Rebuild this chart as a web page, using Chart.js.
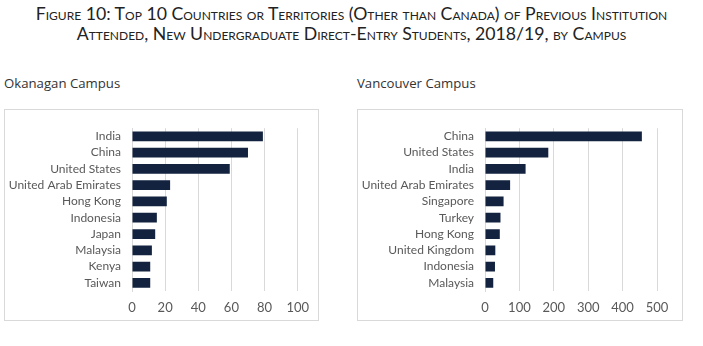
<!DOCTYPE html>
<html>
<head>
    <title>Figure 10</title>
    <script src="https://cdn.jsdelivr.net/npm/chart.js@4/dist/chart.umd.min.js"></script>
    <style>
        body {
            margin: 0;
            width: 703px;
            height: 346px;
            background: #fff;
            position: relative;
            font-family: Lato, "Open Sans", sans-serif;
        }

        .title {
            position: absolute;
            left: 0;
            top: 4px;
            width: 703px;
            text-align: center;
            font-variant: small-caps;
            font-size: 17.7px;
            line-height: 20px;
            color: #222;
        }

        .campus {
            position: absolute;
            top: 74px;
            font-family: "Open Sans", sans-serif;
            font-size: 13.2px;
            color: #333;
        }

        .box {
            position: absolute;
            top: 109px;
            height: 212px;
            box-sizing: border-box;
            border: 1px solid #d9d9d9;
        }
        .box canvas { display: block; }
    </style>
</head>
<body>
<div class="title">Figure 10: Top 10 Countries or Territories (Other than Canada) of Previous Institution<br>Attended, New Undergraduate Direct-Entry Students, 2018/19, by Campus</div>

<div class="campus" style="left: 4px;">Okanagan Campus</div>
<div class="campus" style="left: 357px;">Vancouver Campus</div>

<div class="box" style="left: 4px; width: 315px;">
    <canvas id="okanagan" width="313" height="210"></canvas>
</div>
<div class="box" style="left: 357px; width: 326px;">
    <canvas id="vancouver" width="324" height="210"></canvas>
</div>

<script>
    // Okanagan campus
    const okanaganLabels = ['India', 'China', 'United States', 'United Arab Emirates', 'Hong Kong',
        'Indonesia', 'Japan', 'Malaysia', 'Kenya', 'Taiwan'];
    const okanaganValues = [79, 70, 59, 23, 21, 15, 14, 12, 11, 11];
    const okanaganTicks = [0, 20, 40, 60, 80, 100];

    // Vancouver campus
    const vancouverLabels = ['China', 'United States', 'India', 'United Arab Emirates', 'Singapore',
        'Turkey', 'Hong Kong', 'United Kingdom', 'Indonesia', 'Malaysia'];
    const vancouverValues = [456, 184, 118, 73, 54, 45, 43, 30, 29, 24];
    const vancouverTicks = [0, 100, 200, 300, 400, 500];

    const barColor = '#12223f';
    const gridColor = '#d9d9d9';
    const textColor = '#595959';

    function makeChart(id, labels, values, ticks, rightPad) {
        return new Chart(id, {
            type: 'bar',
            data: {
                labels: labels,
                datasets: [{
                    data: values,
                    backgroundColor: barColor,
                    barPercentage: 0.6,
                    categoryPercentage: 1
                }]
            },
            options: {
                indexAxis: 'y',
                responsive: false,
                animation: false,
                layout: { padding: { top: 14, right: rightPad, bottom: 0, left: 0 } },
                plugins: { legend: { display: false }, tooltip: { enabled: false } },
                scales: {
                    x: {
                        min: ticks[0],
                        max: ticks[ticks.length - 1],
                        afterBuildTicks: function (scale) {
                            scale.ticks = ticks.map(v => ({ value: v }));
                        },
                        afterFit: function (scale) { scale.height = 29; },
                        grid: { color: gridColor, drawTicks: false },
                        border: { display: false },
                        ticks: {
                            color: textColor,
                            padding: 9,
                            font: { family: 'Lato', size: 13 }
                        }
                    },
                    y: {
                        afterFit: function (scale) { scale.width = 127; },
                        grid: { display: false, drawTicks: false },
                        border: { color: gridColor },
                        ticks: {
                            color: textColor,
                            padding: 11,
                            autoSkip: false,
                            font: { family: 'Lato', size: 12 }
                        }
                    }
                }
            }
        });
    }

    makeChart('okanagan', okanaganLabels, okanaganValues, okanaganTicks, 20);
    makeChart('vancouver', vancouverLabels, vancouverValues, vancouverTicks, 25);
</script>
</body>
</html>
